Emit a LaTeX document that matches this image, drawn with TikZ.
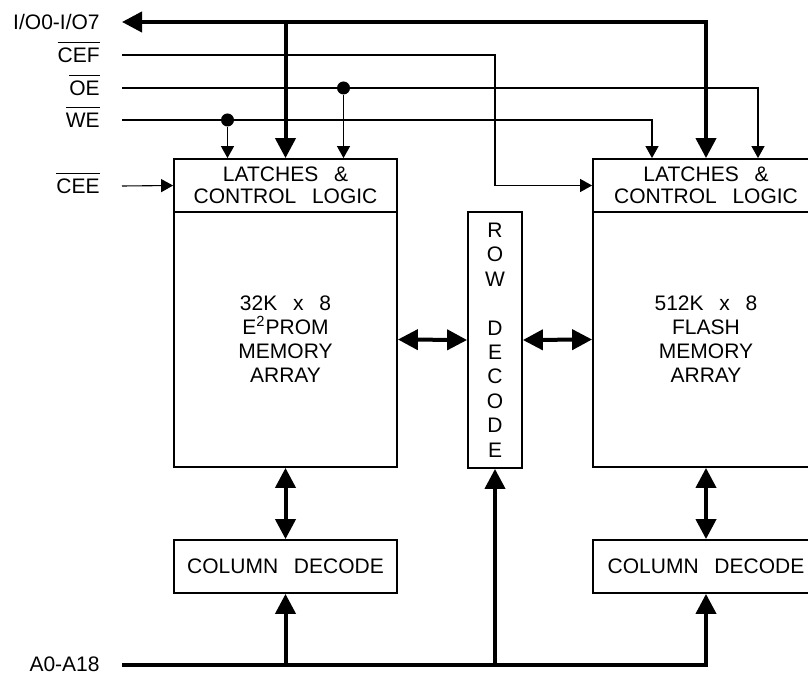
\documentclass[tikz,border=0pt]{standalone}
\usepackage{fontspec}
\setmainfont{Liberation Sans}
\usetikzlibrary{arrows.meta}
\newcommand\ovl[1]{\leavevmode\vbox{\hrule height 0.5pt\kern 2.4pt\hbox{#1}}}
\newcommand\wsp{\hspace{0.75em}}
\begin{document}
\begin{tikzpicture}[x=0.5pt,y=-0.5pt,
  box/.style={draw, line width=0.9pt, inner sep=0pt, align=center},
  latchbox/.style={box, font=\fontsize{10.5}{11}\selectfont, minimum height=26.5pt},
  membox/.style={box, font=\fontsize{10.5}{12}\selectfont, minimum height=127.5pt},
  lbl/.style={inner sep=0pt, anchor=base east, font=\fontsize{10.5}{12}\selectfont},
  sig/.style={line width=0.55pt},
  sigarr/.style={sig, -{Triangle[length=6pt,width=6.5pt]}},
  bus/.style={line width=2pt},
  busarr/.style={bus, -{Triangle[length=10pt,width=10pt]}},
  busdbl/.style={bus, {Triangle[length=10pt,width=10pt]}-{Triangle[length=10pt,width=10pt]}},
  dot/.style={circle, fill, inner sep=0pt, minimum size=6.5pt}]
\useasboundingbox (0,0) rectangle (808,673);

% boxes
\node[latchbox, minimum width=111.5pt] (latchL) at (285.5,185.5) {LATCHES\wsp\&\\CONTROL\wsp LOGIC};
\node[membox, minimum width=111.5pt] (memL) at (285.5,339.5) {32K\wsp x\wsp 8\\E\textsuperscript{2}PROM\\MEMORY\\ARRAY};
\node[box, minimum width=27pt, minimum height=128pt, font=\fontsize{10.5}{12.2}\selectfont] (rowdec) at (495,340) {R\\O\\W\\[12.2pt]D\\E\\C\\O\\D\\E};
\node[box, minimum width=111.5pt, minimum height=26.5pt, font=\fontsize{10.5}{12}\selectfont] (colL) at (285.5,566.5) {COLUMN\wsp DECODE};
\node[latchbox, minimum width=113pt] (latchR) at (706,185.5) {LATCHES\wsp\&\\CONTROL\wsp LOGIC};
\node[membox, minimum width=113pt] (memR) at (706,339.5) {512K\wsp x\wsp 8\\FLASH\\MEMORY\\ARRAY};
\node[box, minimum width=113pt, minimum height=26.5pt, font=\fontsize{10.5}{12}\selectfont] (colR) at (706,566.5) {COLUMN\wsp DECODE};

% labels
\node[lbl] (lio) at (100,29.5) {I/O0-I/O7};
\node[lbl] (lcef) at (100,62.5) {\ovl{CEF}};
\node[lbl] (loe) at (100,95.5) {\ovl{OE}};
\node[lbl] (lwe) at (100,127.5) {\ovl{WE}};
\node[lbl] (lcee) at (100,193.5) {\ovl{CEE}};
\node[lbl] (la) at (100,671) {A0-A18};

\coordinate (io) at (122,22);
\coordinate (cef) at (122,55);
\coordinate (oe) at (122,88);
\coordinate (we) at (122,120);
\coordinate (cee) at (122,186);
\coordinate (addr) at (122,665);

% I/O bus
\draw[bus, {Triangle[length=10pt,width=10pt]}-{Triangle[length=10pt,width=10pt]}] (io) -- (io -| latchR.north) -- (latchR.north);
\draw[busarr] (io -| latchL.north) -- (latchL.north);

% control signals
\draw[sigarr] (cef) -- (cef -| rowdec.north) |- (latchR.west);
\coordinate (oeR) at ([xshift=26pt]latchR.north);
\coordinate (weR) at ([xshift=-27pt]latchR.north);
\coordinate (oeL) at ([xshift=29pt]latchL.north);
\coordinate (weL) at ([xshift=-29pt]latchL.north);
\draw[sigarr] (oe) -- (oe -| oeR) -- (oeR);
\draw[sigarr] (we) -- (we -| weR) -- (weR);
\node[dot] (doe) at (oe -| oeL) {};
\node[dot] (dwe) at (we -| weL) {};
\draw[sigarr] (doe) -- (oeL);
\draw[sigarr] (dwe) -- (weL);
\draw[sigarr] (cee) -- (latchL.west);

% data arrows
\draw[busdbl] (memL.east) -- (rowdec.west);
\draw[busdbl] (rowdec.east) -- (memR.west);
\draw[busdbl] (memL.south) -- (colL.north);
\draw[busdbl] (memR.south) -- (colR.north);

% address bus
\draw[busarr] (addr) -| (colR.south);
\draw[busarr] (addr -| colL.south) -- (colL.south);
\draw[busarr] (addr -| rowdec.south) -- (rowdec.south);
\end{tikzpicture}
\end{document}
